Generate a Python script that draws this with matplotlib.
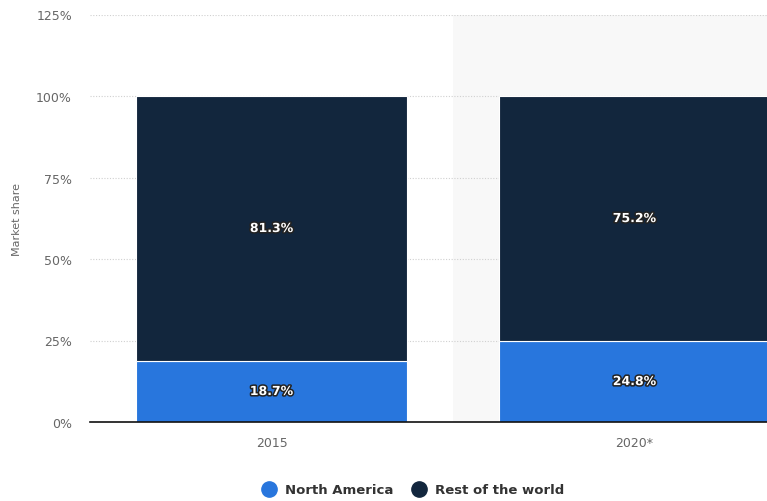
import numpy as np
import matplotlib.pyplot as plt
import matplotlib.patheffects as pe

# 데이터
years = ['2015', '2020*']
north_america = [18.7, 24.8]
rest_of_world = [81.3, 75.2]
yticks = [0, 25, 50, 75, 100, 125]

c_na = '#2876dd'
c_rw = '#12263d'

fig = plt.figure(figsize=(7.67, 5.02), dpi=100)
ax = fig.add_axes([90 / 767, 79 / 502, 677 / 767, 407.5 / 502])

x = np.arange(len(years))
w = 0.746

# 예측 구간 배경
ax.axvspan(0.5, 2.0, color='#f8f8f8', zorder=0, lw=0)

ax.bar(x, north_america, w, color=c_na, edgecolor='white', linewidth=0.8, zorder=3)
ax.bar(x, rest_of_world, w, bottom=north_america, color=c_rw, edgecolor='white', linewidth=0.8, zorder=3)

shadow = [pe.withStroke(linewidth=2.2, foreground='#222222')]
for i in range(len(years)):
    ax.text(x[i], north_america[i] / 2, f'{north_america[i]}%', color='white', ha='center', va='center',
            fontsize=9, fontweight='bold', path_effects=shadow, zorder=5)
    ax.text(x[i], north_america[i] + rest_of_world[i] / 2, f'{rest_of_world[i]}%', color='white',
            ha='center', va='center', fontsize=9, fontweight='bold', path_effects=shadow, zorder=5)

ax.set_xlim(-0.5, 1.365)
ax.set_ylim(0, 125)
ax.set_yticks(yticks)
ax.set_yticklabels([f'{t}%' for t in yticks])
ax.set_xticks(x)
ax.set_xticklabels(years)
ax.yaxis.grid(True, linestyle=(0, (1, 1.5)), color='#d0d0d0', linewidth=0.8, zorder=1)
ax.set_axisbelow(True)

for s in ['top', 'right', 'left']:
    ax.spines[s].set_visible(False)
ax.spines['bottom'].set_color('#111111')
ax.spines['bottom'].set_linewidth(1.2)
ax.spines['bottom'].set_zorder(4)
ax.tick_params(axis='both', length=0, labelsize=9, labelcolor='#666666')
ax.tick_params(axis='y', pad=13)
ax.tick_params(axis='x', pad=10)
ax.set_ylabel('Market share', fontsize=8, color='#666666', labelpad=10)
ax.patch.set_alpha(0)

# 범례
h1 = plt.Line2D([], [], marker='o', ls='', color=c_na, markersize=11)
h2 = plt.Line2D([], [], marker='o', ls='', color=c_rw, markersize=11)
fig.legend([h1, h2], ['North America', 'Rest of the world'], loc='center', bbox_to_anchor=(410 / 767, 11 / 502),
           ncol=2, frameon=False, handletextpad=0.2, columnspacing=1.0,
           prop={'weight': 'bold', 'size': 9.5})
for t in fig.legends[0].get_texts():
    t.set_color('#333333')

fig.savefig('out.png', dpi=100)
